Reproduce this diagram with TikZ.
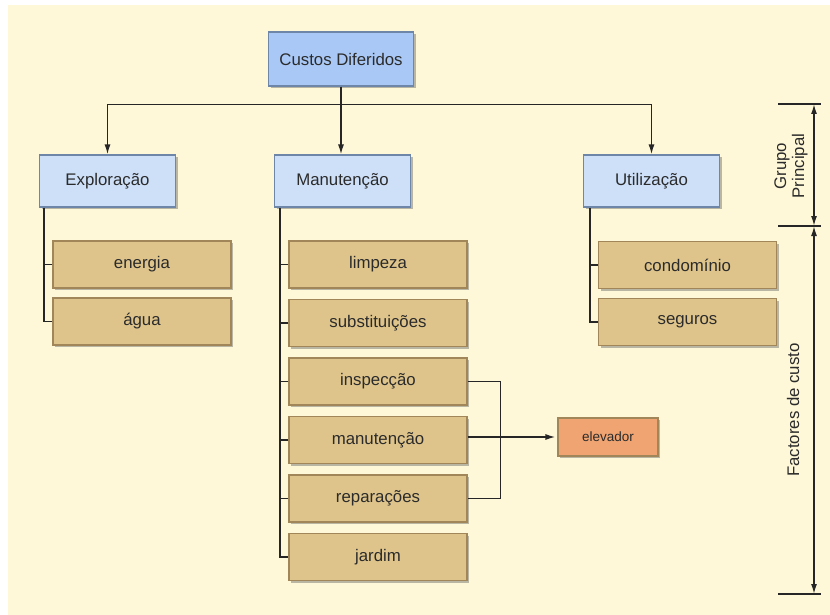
\documentclass[tikz,border=0pt]{standalone}
\usepackage{fontspec}
\setmainfont{Liberation Sans}
\usepackage{tikz}
\usetikzlibrary{arrows.meta,shadows,calc,positioning}
\definecolor{bgcream}{HTML}{FFF8D8}
\definecolor{topblue}{HTML}{A9C8F5}
\definecolor{grpblue}{HTML}{CDE0F8}
\definecolor{blueline}{HTML}{6E86A8}
\definecolor{tanfill}{HTML}{DEC48B}
\definecolor{tanline}{HTML}{A08658}
\definecolor{orangefill}{HTML}{EFA472}
\definecolor{textgray}{HTML}{2B2B2B}
\tikzstyle{box} = [rectangle, inner sep=0pt, line width=1.1pt, text centered, text=textgray, font=\fontsize{16.8}{19}\selectfont, drop shadow={shadow xshift=2pt, shadow yshift=-2pt, opacity=.45, fill=black!60}]
\tikzstyle{root} = [box, draw=blueline, fill=topblue, minimum width=145pt, minimum height=54pt]
\tikzstyle{group} = [box, draw=blueline, fill=grpblue, minimum width=136pt, minimum height=52pt]
\tikzstyle{factor} = [box, draw=tanline, fill=tanfill, minimum width=178pt, minimum height=47pt]
\tikzstyle{arrow} = [line width=1.5pt, draw=black!85, -{Latex[length=10pt,width=6pt]}]
\tikzstyle{link} = [line width=1.5pt, draw=black!85]

\begin{document}
\begin{tikzpicture}[x=1pt, y=-1pt]

    % fundo
    \fill[white] (0,0) rectangle (830,615);
    \fill[bgcream] (8,5) rectangle (830,615);
    \useasboundingbox (0,0) rectangle (830,615);

    \node[root] (custos) at (341,59) {Custos Diferidos};

    \node[group] (explo) at (107.5,181) {Exploração};
    \node[group] (manut) at (342.5,181) {Manutenção};
    \node[group] (utili) at (651.5,181) {Utilização};

    \node[factor] (energia) at (142,264.5) {energia};
    \node[factor] (agua) at (142,321.5) {água};

    \node[factor] (limpeza) at (378,264.5) {limpeza};
    \node[factor] (subst) at (378,323) {substituições};
    \node[factor] (insp) at (378,381.5) {inspecção};
    \node[factor] (manutf) at (378,440) {manutenção};
    \node[factor] (repar) at (378,498.5) {reparações};
    \node[factor] (jardim) at (378,557) {jardim};

    \node[factor] (condo) at (687.5,265) {condomínio};
    \node[factor] (seguros) at (687.5,322) {seguros};

    \node[box, draw=tanline, fill=orangefill, minimum width=100pt, minimum height=38pt,
        font=\fontsize{13.5}{16}\selectfont] (elev) at (608,437) {elevador};

    % ligacoes do topo
    \draw [link] (custos.south) -- ++(0,18) coordinate (hub);
    \draw [arrow] (hub) -| (explo.north);
    \draw [arrow] (hub) -| (utili.north);
    \draw [arrow] (hub) -- (hub |- manut.north);

    % arvores
    \draw [link] ([xshift=5pt]explo.south west) |- (agua.west);
    \draw [link] (energia.west) -- ++(-8,0);
    \draw [link] ([xshift=6pt]manut.south west) |- (jardim.west);
    \foreach \n in {limpeza,subst,insp,manutf,repar}
        \draw [link] (\n.west) -- ++(-8,0);
    \draw [link] ([xshift=7pt]utili.south west) |- (seguros.west);
    \draw [link] (condo.west) -- ++(-8,0);

    % elevador
    \draw [link] (insp.east) -- ++(33,0) |- (repar.east);
    \draw [arrow] (manutf.east |- elev.west) -- ([xshift=-2pt]elev.west);

    % cotas
    \coordinate (gtop) at (814,104);
    \coordinate (gmid) at (814,226);
    \coordinate (gbot) at (814,594);
    \draw [link] ([xshift=-36pt]gtop) -- ([xshift=7pt]gtop);
    \draw [link] ([xshift=-36pt]gmid) -- ([xshift=7pt]gmid);
    \draw [link] ([xshift=-36pt]gbot) -- ([xshift=7pt]gbot);
    \draw [link, {Latex[length=10pt,width=6pt]}-{Latex[length=10pt,width=6pt]}] (gtop) -- (gmid);
    \draw [link, {Latex[length=10pt,width=6pt]}-{Latex[length=10pt,width=6pt]}] (gmid) -- (gbot);
    \node[rotate=90, align=center, text=textgray, font=\fontsize{16.8}{18}\selectfont] (grupo) at (791,166) {Grupo\\Principal};
    \node[rotate=90, text=textgray, font=\fontsize{16.8}{18}\selectfont] (fact) at (793,410) {Factores de custo};

\end{tikzpicture}
\end{document}
